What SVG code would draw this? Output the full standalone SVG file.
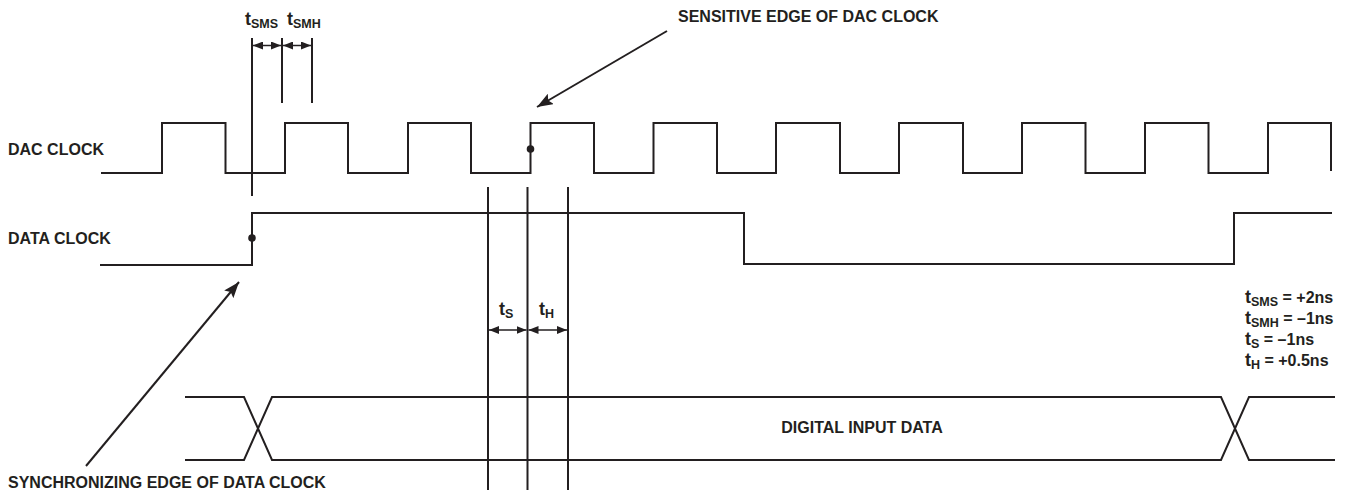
<svg xmlns="http://www.w3.org/2000/svg" width="1349" height="490" viewBox="0 0 1349 490">
<style>
.w{fill:none;stroke:#231f20;stroke-width:2;stroke-linejoin:miter}
.l{fill:none;stroke:#231f20;stroke-width:2}
.d{fill:none;stroke:#231f20;stroke-width:1.5}
.t{font-family:"Liberation Sans",Arial,sans-serif;font-weight:bold;font-size:16px;fill:#231f20}
.m{font-family:"Liberation Sans",Arial,sans-serif;font-weight:bold;font-size:18px;fill:#231f20}
.s{font-size:12.5px}
.v{font-size:16px}
</style>
<defs>
<marker id="sm" viewBox="0 0 10 8" refX="10" refY="4" markerWidth="10" markerHeight="8" markerUnits="userSpaceOnUse" orient="auto-start-reverse">
<path d="M0,0 L10,4 L0,8 Z" fill="#231f20"/>
</marker>
<marker id="big" viewBox="0 0 16 12" refX="16" refY="6" markerWidth="16" markerHeight="12" markerUnits="userSpaceOnUse" orient="auto">
<path d="M0,0 L16,6 L0,12 L3,6 Z" fill="#231f20"/>
</marker>
</defs>

<g id="labels">
<text class="t" x="8" y="155">DAC CLOCK</text>
<text class="t" x="8" y="244">DATA CLOCK</text>
<text class="t" x="678" y="22">SENSITIVE EDGE OF DAC CLOCK</text>
<text class="t" x="8" y="488">SYNCHRONIZING EDGE OF DATA CLOCK</text>
</g>

<g id="dac-clock">
<path class="w" d="M101 173 H162 V123 H225.5 V173 H285 V123 H348 V173 H408 V123 H471 V173 H530.5 V123 H594 V173 H653.5 V123 H717 V173 H776 V123 H840 V173 H899 V123 H963 V173 H1022 V123 H1085.5 V173 H1145 V123 H1208.5 V173 H1268 V123 H1331 V171"/>
<circle cx="530.5" cy="149" r="3.8" fill="#231f20"/>
</g>

<g id="data-clock">
<path class="w" d="M100 265 H252 V213 H744 V264 H1234 V213 H1332"/>
<circle cx="252" cy="238" r="3.8" fill="#231f20"/>
</g>

<g id="digital-input-data">
<path class="w" d="M185 397 H244 L272 460 H1221 L1249 397 H1335"/>
<path class="w" d="M185 460 H244 L272 397 H1221 L1249 460 H1335"/>
<text class="t" x="862" y="433" text-anchor="middle">DIGITAL INPUT DATA</text>
</g>

<g id="timing-sms-smh">
<line class="l" x1="252" y1="38" x2="252" y2="196"/>
<line class="l" x1="282" y1="38" x2="282" y2="103"/>
<line class="l" x1="312" y1="38" x2="312" y2="103"/>
<text class="m" x="245" y="25">t<tspan class="s" dy="2.5">SMS</tspan></text>
<text class="m" x="287" y="25">t<tspan class="s" dy="2.5">SMH</tspan></text>
</g>

<g id="timing-s-h">
<line class="l" x1="488" y1="187" x2="488" y2="490"/>
<line class="l" x1="527.5" y1="187" x2="527.5" y2="490"/>
<line class="l" x1="568" y1="187" x2="568" y2="490"/>
<text class="m" x="499" y="315">t<tspan class="s" dy="3">S</tspan></text>
<text class="m" x="539" y="315">t<tspan class="s" dy="3">H</tspan></text>
</g>

<g id="spec-values">
<text class="m" x="1245" y="303">t<tspan class="s" dy="3">SMS</tspan><tspan class="v" dy="-3"> = +2ns</tspan></text>
<text class="m" x="1245" y="324">t<tspan class="s" dy="3">SMH</tspan><tspan class="v" dy="-3"> = –1ns</tspan></text>
<text class="m" x="1245" y="345">t<tspan class="s" dy="3">S</tspan><tspan class="v" dy="-3"> = –1ns</tspan></text>
<text class="m" x="1245" y="366">t<tspan class="s" dy="3">H</tspan><tspan class="v" dy="-3"> = +0.5ns</tspan></text>
</g>

<g id="connectors">
<line class="d" x1="253" y1="45.5" x2="281" y2="45.5" marker-start="url(#sm)" marker-end="url(#sm)"/>
<line class="d" x1="283" y1="45.5" x2="311" y2="45.5" marker-start="url(#sm)" marker-end="url(#sm)"/>
<line class="d" x1="489" y1="330" x2="526.5" y2="330" marker-start="url(#sm)" marker-end="url(#sm)"/>
<line class="d" x1="528.5" y1="330" x2="567" y2="330" marker-start="url(#sm)" marker-end="url(#sm)"/>
<line class="l" x1="667" y1="31" x2="537" y2="107" marker-end="url(#big)"/>
<line class="l" x1="86" y1="466" x2="239" y2="282" marker-end="url(#big)"/>
</g>
</svg>
